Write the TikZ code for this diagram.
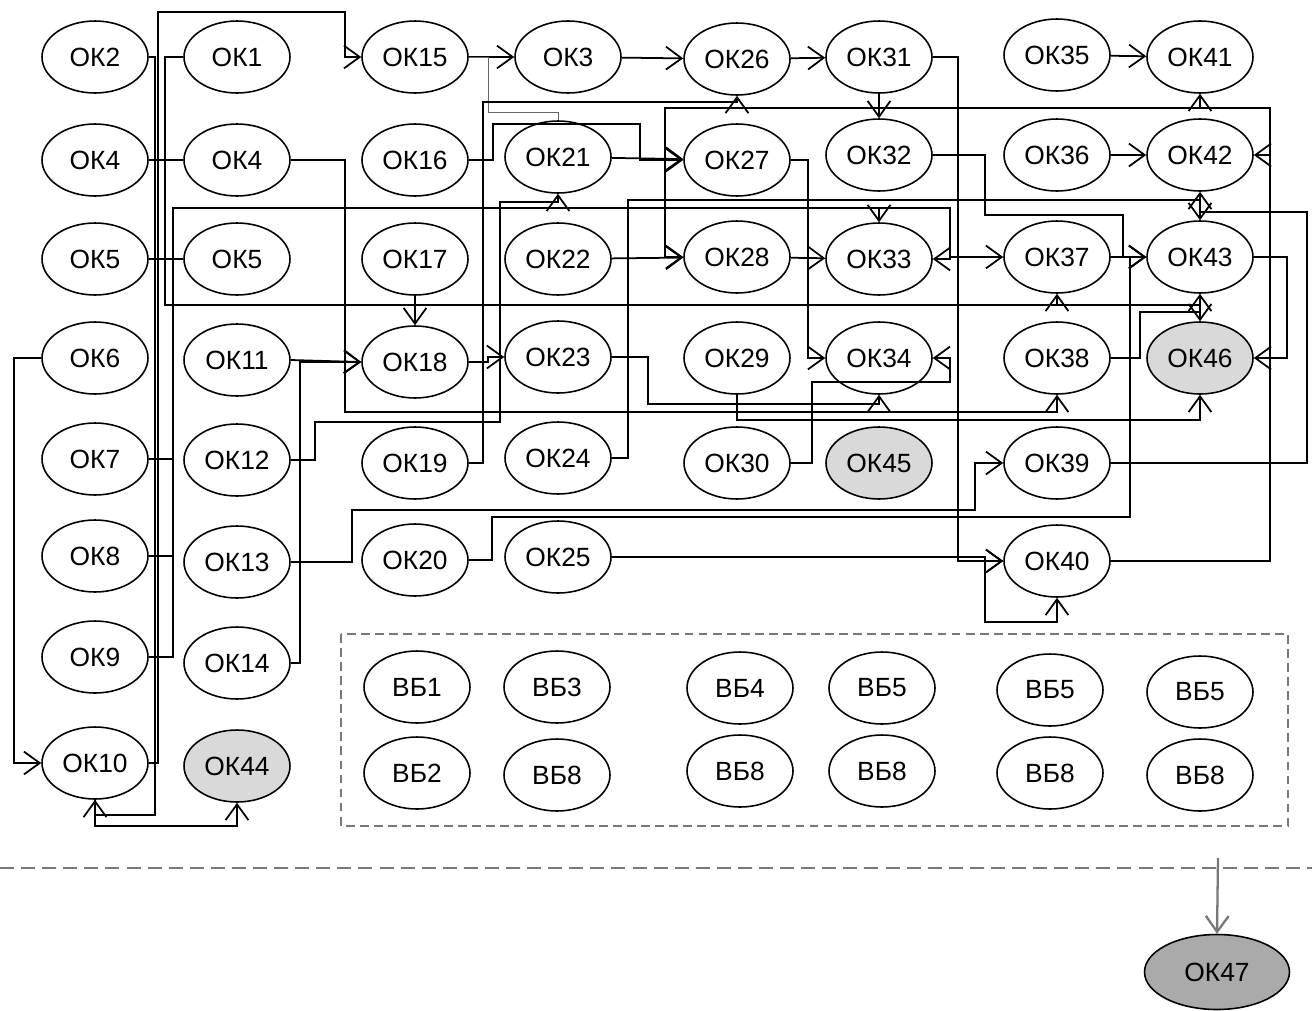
\documentclass[tikz,border=0pt]{standalone}
\usepackage{fontspec}
\setmainfont{Liberation Sans}
\usetikzlibrary{shapes.geometric, arrows.meta, positioning}
\definecolor{LightGray}{RGB}{217,217,217}
\definecolor{MidGray}{RGB}{170,170,170}
\definecolor{LineGray}{RGB}{120,120,120}

\begin{document}
\begin{tikzpicture}[
  x=0.02cm, y=-0.02cm,
  font=\fontsize{15}{17}\selectfont,
  ok/.style={ellipse, draw, line width=0.9pt, fill=white,
             minimum width=2.12cm, minimum height=1.44cm, inner sep=0pt},
  okgray/.style={ok, fill=LightGray},
  okdark/.style={ok, fill=MidGray, minimum width=2.9cm, minimum height=1.5cm},
  wire/.style={line width=1pt},
  arr/.style={wire, -{Straight Barb[length=9pt,width=13pt]}},
  thinwire/.style={line width=0.5pt, black!60},
  sep/.style={LineGray, line width=1.6pt, dash pattern=on 8pt off 4pt},
]
\useasboundingbox (0,0) rectangle (1312,1011);

% column 1
\node[ok] (ok2)  at (95,57)  {ОК2};
\node[ok] (ok4a) at (95,160) {ОК4};
\node[ok] (ok5a) at (95,259) {ОК5};
\node[ok] (ok6)  at (95,358) {ОК6};
\node[ok] (ok7)  at (95,459) {ОК7};
\node[ok] (ok8)  at (95,556) {ОК8};
\node[ok] (ok9)  at (95,657) {ОК9};
\node[ok] (ok10) at (95,763) {ОК10};

% column 2
\node[ok] (ok1)  at (237,57)  {ОК1};
\node[ok] (ok4b) at (237,160) {ОК4};
\node[ok] (ok5b) at (237,259) {ОК5};
\node[ok] (ok11) at (237,360) {ОК11};
\node[ok] (ok12) at (237,460) {ОК12};
\node[ok] (ok13) at (237,562) {ОК13};
\node[ok] (ok14) at (237,663) {ОК14};
\node[okgray] (ok44) at (237,766) {ОК44};

% column 3
\node[ok] (ok15) at (415,57)  {ОК15};
\node[ok] (ok16) at (415,160) {ОК16};
\node[ok] (ok17) at (415,259) {ОК17};
\node[ok] (ok18) at (415,362) {ОК18};
\node[ok] (ok19) at (415,463) {ОК19};
\node[ok] (ok20) at (415,560) {ОК20};

% column 4
\node[ok] (ok3)  at (568,57)  {ОК3};
\node[ok] (ok21) at (558,157) {ОК21};
\node[ok] (ok22) at (558,259) {ОК22};
\node[ok] (ok23) at (558,357) {ОК23};
\node[ok] (ok24) at (558,458) {ОК24};
\node[ok] (ok25) at (558,557) {ОК25};

% column 5
\node[ok] (ok26) at (737,59)  {ОК26};
\node[ok] (ok27) at (737,160) {ОК27};
\node[ok] (ok28) at (737,257) {ОК28};
\node[ok] (ok29) at (737,358) {ОК29};
\node[ok] (ok30) at (737,463) {ОК30};

% column 6
\node[ok] (ok31) at (879,57)  {ОК31};
\node[ok] (ok32) at (879,155) {ОК32};
\node[ok] (ok33) at (879,259) {ОК33};
\node[ok] (ok34) at (879,358) {ОК34};
\node[okgray] (ok45) at (879,463) {ОК45};

% column 7
\node[ok] (ok35) at (1057,55)  {ОК35};
\node[ok] (ok36) at (1057,155) {ОК36};
\node[ok] (ok37) at (1057,257) {ОК37};
\node[ok] (ok38) at (1057,358) {ОК38};
\node[ok] (ok39) at (1057,463) {ОК39};
\node[ok] (ok40) at (1057,561) {ОК40};

% column 8
\node[ok] (ok41) at (1200,57)  {ОК41};
\node[ok] (ok42) at (1200,155) {ОК42};
\node[ok] (ok43) at (1200,257) {ОК43};
\node[okgray] (ok46) at (1200,358) {ОК46};

% reserve blocks
\draw[LineGray, line width=1pt, dash pattern=on 5pt off 3pt] (341,634) rectangle (1288,826);
\node[ok] (vb1)  at (417,687)  {ВБ1};
\node[ok] (vb3)  at (557,687)  {ВБ3};
\node[ok] (vb4)  at (740,688)  {ВБ4};
\node[ok] (vb5a) at (882,688)  {ВБ5};
\node[ok] (vb5b) at (1050,690) {ВБ5};
\node[ok] (vb5c) at (1200,692) {ВБ5};
\node[ok] (vb2)  at (417,773)  {ВБ2};
\node[ok] (vb8a) at (557,775)  {ВБ8};
\node[ok] (vb8b) at (740,771)  {ВБ8};
\node[ok] (vb8c) at (882,771)  {ВБ8};
\node[ok] (vb8d) at (1050,773) {ВБ8};
\node[ok] (vb8e) at (1200,775) {ВБ8};

% final
\draw[sep] (0,868) -- (1312,868);
\coordinate (top47) at (1218,858);
\node[okdark] (ok47) at (1217,972) {ОК47};
\draw[arr, LineGray, line width=1.3pt] (top47) -- (ok47.north);

% left part
\draw[wire] (ok4a) -- (ok4b);
\draw[wire] (ok5a) -- (ok5b);
\draw[arr] (ok6.west) -- (14,358) |- (ok10.west);
\draw[arr] (ok10.east) -- (158,763) -- (158,12) -| (345,57) -- (ok15.west);
\draw[arr] (ok2.east) -- (155,57) -- (155,815) -| (ok10.south);
\draw[arr] (ok10.south) -- ++(0,26) -| (ok44.south);
\draw[arr] (ok1.west) -- (165,57) |- (1200,305) -- (ok46.north);
\coordinate (j37) at (1057,305);
\draw[arr] (j37) -- (ok37.south);
\draw[wire] (ok7.east) -- (173,459);
\draw[wire] (ok8.east) -- (173,556);
\draw[arr] (ok9.east) -- (173,657) |- (950,208) |- (ok33.east);
\coordinate (j33) at (879,208);
\draw[arr] (j33) -- (ok33.north);
\coordinate (j37w) at (950,257);
\draw[arr] (j37w) -- (ok37.west);
\draw[arr] (ok4b.east) -- (345,160) |- (1057,412) -- (ok38.south);
\draw[arr] (ok11.east) -- (ok18.west);
\draw[arr] (ok14.east) -- (300,663) |- (ok18.west);
\draw[arr] (ok12.east) -- (315,460) |- (500,422) |- (558,202) -- (ok21.south);
\draw[arr] (ok13.east) -- (352,562) |- (975,510) |- (ok39.west);

% middle part
\draw[arr] (ok15) -- (ok3);
\draw[arr] (ok3) -- (ok26);
\draw[arr] (ok26) -- (ok31);
\draw[arr] (ok17) -- (ok18);
\draw[arr] (ok18.east) -- (488,362) |- (ok23.west);
\draw[thinwire] (ok15.east) -- (488,57) |- (558,112) -- (ok21.north);
\draw[arr] (ok19.east) -- (483,463) |- (737,102) -- (ok26.south);
\draw[arr] (ok16.east) -- (493,160) |- (640,124) |- (ok27.west);
\draw[arr] (ok21) -- (ok27);
\draw[arr] (ok22) -- (ok28);
\draw[arr] (ok23.east) -- (648,357) |- (879,404) -- (ok34.south);
\draw[arr] (ok24.east) -- (628,458) |- (1200,200) -- (ok43.north);
\draw[arr] (ok20.east) -- (492,560) |- (1130,517) |- (ok43.west);
\draw[arr] (ok25.east) -- (985,557) |- (ok40.west);
\draw[arr] (ok27.east) -- (808,160) |- (ok34.west);
\draw[arr] (ok28) -- (ok33);
\draw[arr] (ok29.south) -- (737,420) -| (ok46.south);
\draw[arr] (ok30.east) -- (812,463) |- (950,382) |- (ok34.east);

% right part
\draw[arr] (ok31) -- (ok32);
\draw[arr] (ok31.east) -- (958,57) |- (ok40.west);
\draw[arr] (ok32.east) -- (985,155) |- (1123,215) |- (ok43.west);
\draw[arr] (ok35) -- (ok41);
\draw[arr] (ok36) -- (ok42);
\draw[arr] (ok37) -- (ok43);
\draw[arr] (ok38.east) -- (1140,358) |- (1200,312) -- (ok43.south);
\draw[arr] (ok39.east) -- (1307,463) |- (1200,212) -- (ok42.south);
\draw[arr] (ok43.east) -- (1287,257) |- (ok46.east);
\coordinate (j40) at (985,561);
\draw[arr] (j40) |- (1057,622) -- (ok40.south);
\draw[arr] (ok40.east) -- (1270,561) -- (1270,108) -- (665,108) |- (ok28.west);
\coordinate (j41) at (1200,108);
\draw[arr] (j41) -- (ok41.south);
\coordinate (j42) at (1270,155);
\draw[arr] (j42) -- (ok42.east);

\end{tikzpicture}
\end{document}
